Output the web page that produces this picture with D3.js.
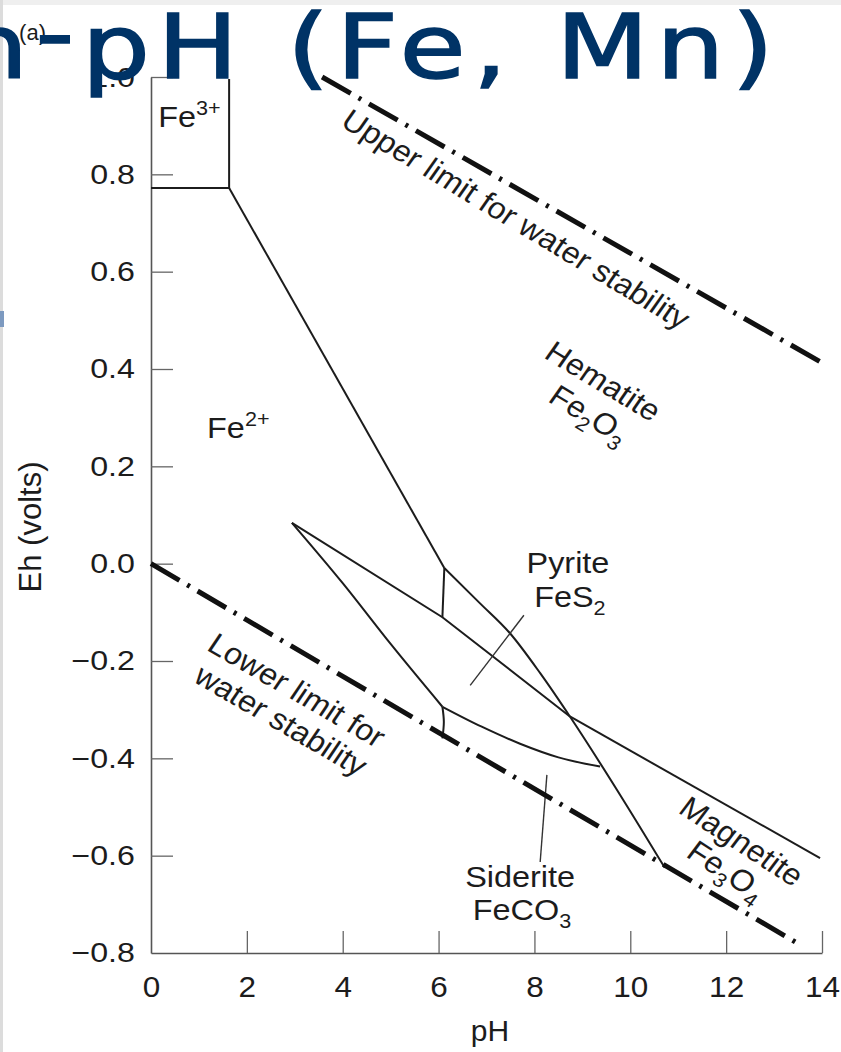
<!DOCTYPE html>
<html><head><meta charset="utf-8">
<script src="https://cdn.jsdelivr.net/npm/d3@7"></script>
<style>body{margin:0;background:#fff} svg{display:block}</style>
</head><body><svg id="c" width="841" height="1052"></svg>
<script>
// ---- data (pH, Eh volts) ----
const xTicks = [0, 2, 4, 6, 8, 10, 12, 14];
const yTicks = [-0.8, -0.6, -0.4, -0.2, 0.0, 0.2, 0.4, 0.6, 0.8, 1.0];
const upperWater = [[3.57, 1.0], [13.96, 0.415]];
const lowerWater = [[0, 0], [13.54, -0.783]];
const fe3Box = [[0, 0.772], [1.63, 0.772], [1.63, 0.996]];
const fe2Hematite = [[1.63, 0.772], [6.12, -0.009]];
const fe2HematiteVert = [[6.12, -0.009], [6.08, -0.11]];
const pyriteHematite = [[6.12, -0.009], [6.86, -0.081], [7.49, -0.143], [8.12, -0.225], [8.74, -0.314], [9.85, -0.485], [10.72, -0.625]];
const pyriteUpper = [[2.94, 0.084], [6.08, -0.11], [8.74, -0.314]];
const hematiteMagnetite = [[8.74, -0.314], [13.96, -0.605]];
const pyriteLower = [[2.94, 0.084], [4.0, -0.04], [5.0, -0.165], [6.08, -0.294]];
const sideriteFe2 = [[6.08, -0.294], [6.11, -0.325], [6.08, -0.359]];
const sideriteUpper = [[6.08, -0.294], [6.9, -0.335], [7.7, -0.37], [8.5, -0.398], [9.37, -0.417]];
const pyriteLeader = [[7.78, -0.106], [6.66, -0.25]];
const sideriteLeader = [[8.26, -0.434], [8.12, -0.613]];

const labels = [
  {parts: [["Fe"], ["3+", "sup"]], at: [0.15, 0.897], anchor: "start", rot: 0},
  {parts: [["Fe"], ["2+", "sup"]], at: [1.17, 0.258], anchor: "start", rot: 0},
  {parts: [["Pyrite"]], at: [8.70, -0.019], anchor: "middle", rot: 0},
  {parts: [["FeS"], ["2", "sub"]], at: [8.74, -0.089], anchor: "middle", rot: 0},
  {parts: [["Siderite"]], at: [7.70, -0.664], anchor: "middle", rot: 0},
  {parts: [["FeCO"], ["3", "sub"]], at: [7.74, -0.732], anchor: "middle", rot: 0},
  {parts: [["Upper limit for water stability"]], at: [7.49, 0.69], anchor: "middle", rot: 33, center: true},
  {parts: [["Hematite"]], at: [9.31, 0.357], anchor: "middle", rot: 33, center: true},
  {parts: [["Fe"], ["2", "sub"], ["O"], ["3", "sub"]], at: [9.02, 0.289], anchor: "middle", rot: 33, center: true},
  {parts: [["Lower limit for"]], at: [2.92, -0.278], anchor: "middle", rot: 32, center: true},
  {parts: [["water stability"]], at: [2.59, -0.34], anchor: "middle", rot: 32, center: true},
  {parts: [["Magnetite"]], at: [12.19, -0.588], anchor: "middle", rot: 35, center: true},
  {parts: [["Fe"], ["3", "sub"], ["O"], ["4", "sub"]], at: [11.88, -0.648], anchor: "middle", rot: 35, center: true}
];

// ---- drawing ----
const svg = d3.select("#c");
const W = 841, H = 1052;
const SX = 1.08;          // slight horizontal stretch of the scanned figure text
svg.append("rect").attr("width", W).attr("height", H).attr("fill", "#fff");
svg.append("rect").attr("x", 0).attr("y", 0).attr("width", W).attr("height", 5).attr("fill", "#efefef");
svg.append("rect").attr("x", 0).attr("y", 0).attr("width", 3).attr("height", H).attr("fill", "#dcdcdc");
svg.append("rect").attr("x", 0).attr("y", 311).attr("width", 4).attr("height", 16).attr("fill", "#7d9ac0");

const x = d3.scaleLinear().domain([0, 14]).range([151, 822]);
const y = d3.scaleLinear().domain([-0.8, 1.0]).range([953, 77]);
const FONT = "'Liberation Sans', Arial, Helvetica, sans-serif";
const INK = "#1c1c1c";

// axes
const fmt = d3.format(".1f");
const gy = svg.append("g").attr("transform", `translate(${x(0)},0)`)
  .call(d3.axisLeft(y).tickValues(yTicks).tickFormat(fmt).tickSizeInner(-22).tickSizeOuter(0).tickPadding(14));
const gx = svg.append("g").attr("transform", `translate(0,${y(-0.8)})`)
  .call(d3.axisBottom(x).tickValues(xTicks).tickFormat(d3.format("d")).tickSizeInner(-22).tickSizeOuter(0).tickPadding(23));
[gy, gx].forEach(g => {
  g.select(".domain").attr("stroke", "#555").attr("stroke-width", 1.6);
  g.selectAll(".tick line").attr("stroke", "#666").attr("stroke-width", 1.3);
  g.selectAll(".tick text").attr("fill", INK).attr("font-family", FONT);
});
gy.selectAll(".tick text").attr("font-size", 28).attr("transform", "scale(1.15,1)");
gx.selectAll(".tick text").attr("font-size", 30).attr("transform", "scale(1.05,1)");
gy.selectAll(".tick").filter(d => d === -0.8).select("line").attr("stroke-opacity", 0);
gx.selectAll(".tick").filter(d => d === 0).select("line").attr("stroke-opacity", 0);
gy.selectAll(".tick").filter(d => d === 1.0).select("text").remove();

// axis titles
svg.append("text").attr("x", 490).attr("y", 1041).attr("text-anchor", "middle")
  .attr("font-family", FONT).attr("font-size", 30).attr("fill", INK).text("pH");
svg.append("text").attr("transform", `translate(41,527) rotate(-90)`).attr("text-anchor", "middle")
  .attr("font-family", FONT).attr("font-size", 31).attr("fill", INK).text("Eh (volts)");

// boundary lines
const line = d3.line().x(d => x(d[0])).y(d => y(d[1]));
const curve = d3.line().curve(d3.curveMonotoneX).x(d => x(d[0])).y(d => y(d[1]));
const plain = [fe3Box, fe2Hematite, fe2HematiteVert, pyriteUpper, hematiteMagnetite];
plain.forEach(p => svg.append("path").attr("d", line(p)).attr("fill", "none").attr("stroke", INK).attr("stroke-width", 2));
[pyriteHematite, pyriteLower, sideriteUpper].forEach(p => svg.append("path").attr("d", curve(p)).attr("fill", "none").attr("stroke", INK).attr("stroke-width", 2));
svg.append("path").attr("d", d3.line().curve(d3.curveCatmullRom).x(d => x(d[0])).y(d => y(d[1]))(sideriteFe2))
  .attr("fill", "none").attr("stroke", INK).attr("stroke-width", 2);
[pyriteLeader, sideriteLeader].forEach(p => svg.append("path").attr("d", line(p)).attr("fill", "none").attr("stroke", "#333").attr("stroke-width", 1.4));

// water stability limits
[upperWater, lowerWater].forEach(p => svg.append("path").attr("d", line(p)).attr("fill", "none")
  .attr("stroke", "#111").attr("stroke-width", 5).attr("stroke-dasharray", "33,9,3,9"));

// labels
labels.forEach(l => {
  const t = svg.append("text")
    .attr("transform", `translate(${x(l.at[0])},${y(l.at[1])}) scale(${SX},1) rotate(${l.rot})`)
    .attr("text-anchor", l.anchor).attr("font-family", FONT).attr("font-size", 30).attr("fill", INK)
    .attr("dy", l.center ? "0.35em" : 0);
  let shift = 0;
  l.parts.forEach(([s, kind]) => {
    let target = kind === "sub" ? 8 : kind === "sup" ? -12 : 0;
    t.append("tspan").attr("dy", target - shift).attr("font-size", kind ? 20 : 30).text(s);
    shift = target;
  });
});

// (a) panel label, "1.0" tick label and the overlapping slide title
svg.append("text").attr("x", 46).attr("y", 40).attr("text-anchor", "end")
  .attr("font-family", FONT).attr("font-size", 22).attr("fill", INK).text("(a)");
svg.append("text").attr("transform", `translate(${x(0) - 16},${y(1.0)}) scale(1.15,1)`).attr("text-anchor", "end")
  .attr("dy", "0.35em").attr("font-family", FONT).attr("font-size", 28).attr("fill", INK).text("1.0");
const title = svg.append("text").attr("transform", "scale(1.21,1)").attr("x", -33).attr("y", 78)
  .attr("font-family", "'DejaVu Sans', Verdana, sans-serif").attr("font-size", 89)
  .attr("letter-spacing", 6).attr("fill", "#003366").attr("stroke", "#003366").attr("stroke-width", 1.5);
title.append("tspan").text("h");
title.append("tspan").attr("dy", -14).text("-");
title.append("tspan").attr("dy", 14).text("pH (Fe, Mn)");
</script></body></html>
